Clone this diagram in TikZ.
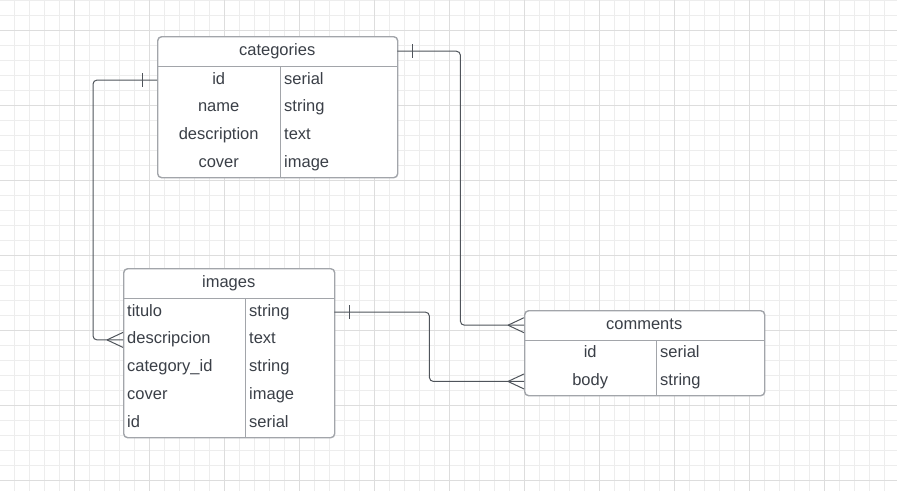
\documentclass[tikz,border=0pt]{standalone}
\usepackage{fontspec}
\setmainfont{Liberation Sans}
\definecolor{gridminor}{HTML}{EDEDED}
\definecolor{gridmajor}{HTML}{DDDDDD}
\definecolor{tborder}{HTML}{A2A5AA}
\definecolor{ink}{HTML}{3A3F47}
\definecolor{wire}{HTML}{4F545B}
\begin{document}
\begin{tikzpicture}[x=1pt,y=-1pt,
  font=\fontsize{16.5}{18}\selectfont,
  tbl/.style={draw=tborder,line width=1.4pt,fill=white,rounded corners=4pt,inner sep=0pt,anchor=north west},
  sep/.style={draw=tborder,line width=1.4pt},
  cell/.style={text=ink,inner xsep=4pt,inner ysep=0pt,text height=11.5pt,text depth=3.5pt,anchor=north west},
  ctr/.style={cell,align=center},
  lft/.style={cell,align=left},
  wire/.style={draw=wire,line width=1pt},
  ]
\useasboundingbox (0,0) rectangle (897,491);
% grid
\begin{scope}
\clip (0,0) rectangle (897,491);
\foreach \x in {-1,14,...,899} \draw[gridminor,line width=1pt] (\x,0) -- (\x,491);
\foreach \y in {0,15,...,495} \draw[gridminor,line width=1pt] (0,\y) -- (897,\y);
\foreach \x in {74,149,...,899} \draw[gridmajor,line width=1pt] (\x,0) -- (\x,491);
\foreach \y in {30,105,...,495} \draw[gridmajor,line width=1pt] (0,\y) -- (897,\y);
\end{scope}

% ---------- categories ----------
\node[tbl,minimum width=240pt,minimum height=141pt] (categories) at (157,36) {};
\node[ctr,text width=232pt,minimum height=30pt] (cat-head) at (157,36) {categories};
\node[ctr,text width=115pt,minimum height=27.75pt] (cat-id-k) at (157,66) {id};
\node[lft,text width=109pt,minimum height=27.75pt] (cat-id-v) at (280,66) {serial};
\node[ctr,text width=115pt,minimum height=27.75pt] (cat-name-k) at (157,93.75) {name};
\node[lft,text width=109pt,minimum height=27.75pt] (cat-name-v) at (280,93.75) {string};
\node[ctr,text width=115pt,minimum height=27.75pt] (cat-desc-k) at (157,121.5) {description};
\node[lft,text width=109pt,minimum height=27.75pt] (cat-desc-v) at (280,121.5) {text};
\node[ctr,text width=115pt,minimum height=27.75pt] (cat-cover-k) at (157,149.25) {cover};
\node[lft,text width=109pt,minimum height=27.75pt] (cat-cover-v) at (280,149.25) {image};
\draw[sep] (cat-head.south west) -- (cat-head.south east);
\draw[sep] (cat-id-k.north east) -- (cat-cover-k.south east);

% ---------- images ----------
\node[tbl,minimum width=211pt,minimum height=169pt] (images) at (123,268) {};
\node[ctr,text width=203pt,minimum height=30pt] (img-head) at (123,268) {images};
\node[lft,text width=114pt,minimum height=27.8pt] (img-tit-k) at (123,298) {titulo};
\node[lft,text width=81pt,minimum height=27.8pt] (img-tit-v) at (245,298) {string};
\node[lft,text width=114pt,minimum height=27.8pt] (img-desc-k) at (123,325.8) {descripcion};
\node[lft,text width=81pt,minimum height=27.8pt] (img-desc-v) at (245,325.8) {text};
\node[lft,text width=114pt,minimum height=27.8pt] (img-cat-k) at (123,353.6) {category\_id};
\node[lft,text width=81pt,minimum height=27.8pt] (img-cat-v) at (245,353.6) {string};
\node[lft,text width=114pt,minimum height=27.8pt] (img-cover-k) at (123,381.4) {cover};
\node[lft,text width=81pt,minimum height=27.8pt] (img-cover-v) at (245,381.4) {image};
\node[lft,text width=114pt,minimum height=27.8pt] (img-id-k) at (123,409.2) {id};
\node[lft,text width=81pt,minimum height=27.8pt] (img-id-v) at (245,409.2) {serial};
\draw[sep] (img-head.south west) -- (img-head.south east);
\draw[sep] (img-tit-k.north east) -- (img-id-k.south east);

% ---------- comments ----------
\node[tbl,minimum width=240pt,minimum height=85pt] (comments) at (524,310) {};
\node[ctr,text width=232pt,minimum height=30pt] (com-head) at (524,310) {comments};
\node[ctr,text width=124pt,minimum height=27.5pt] (com-id-k) at (524,340) {id};
\node[lft,text width=100pt,minimum height=27.5pt] (com-id-v) at (656,340) {serial};
\node[ctr,text width=124pt,minimum height=27.5pt] (com-body-k) at (524,367.5) {body};
\node[lft,text width=100pt,minimum height=27.5pt] (com-body-v) at (656,367.5) {string};
\draw[sep] (com-head.south west) -- (com-head.south east);
\draw[sep] (com-id-k.north east) -- (com-body-k.south east);

% ---------- connectors ----------
% categories.id (one) -> images.descripcion (many)
\draw[wire,rounded corners=4pt] (cat-id-k.west) -- ++(-64,0) |- (img-desc-k.west);
\draw[wire] ([xshift=-15pt,yshift=7pt]cat-id-k.west) -- ([xshift=-15pt,yshift=-7pt]cat-id-k.west);
\draw[wire] ([xshift=-16pt]img-desc-k.west) -- ([yshift=7.5pt]img-desc-k.west);
\draw[wire] ([xshift=-16pt]img-desc-k.west) -- ([yshift=-7.5pt]img-desc-k.west);

% categories (one) -> comments (many)
\draw[wire,rounded corners=4pt] (cat-head.east) -- ++(63,0) |- (com-head.west);
\draw[wire] ([xshift=15pt,yshift=7pt]cat-head.east) -- ([xshift=15pt,yshift=-7pt]cat-head.east);
\draw[wire] ([xshift=-16pt]com-head.west) -- ([yshift=7.5pt]com-head.west);
\draw[wire] ([xshift=-16pt]com-head.west) -- ([yshift=-7.5pt]com-head.west);

% images (one) -> comments.body (many)
\draw[wire,rounded corners=4pt] (img-tit-v.east) -- ++(95,0) |- (com-body-k.west);
\draw[wire] ([xshift=15pt,yshift=7pt]img-tit-v.east) -- ([xshift=15pt,yshift=-7pt]img-tit-v.east);
\draw[wire] ([xshift=-16pt]com-body-k.west) -- ([yshift=7.5pt]com-body-k.west);
\draw[wire] ([xshift=-16pt]com-body-k.west) -- ([yshift=-7.5pt]com-body-k.west);
\end{tikzpicture}
\end{document}
